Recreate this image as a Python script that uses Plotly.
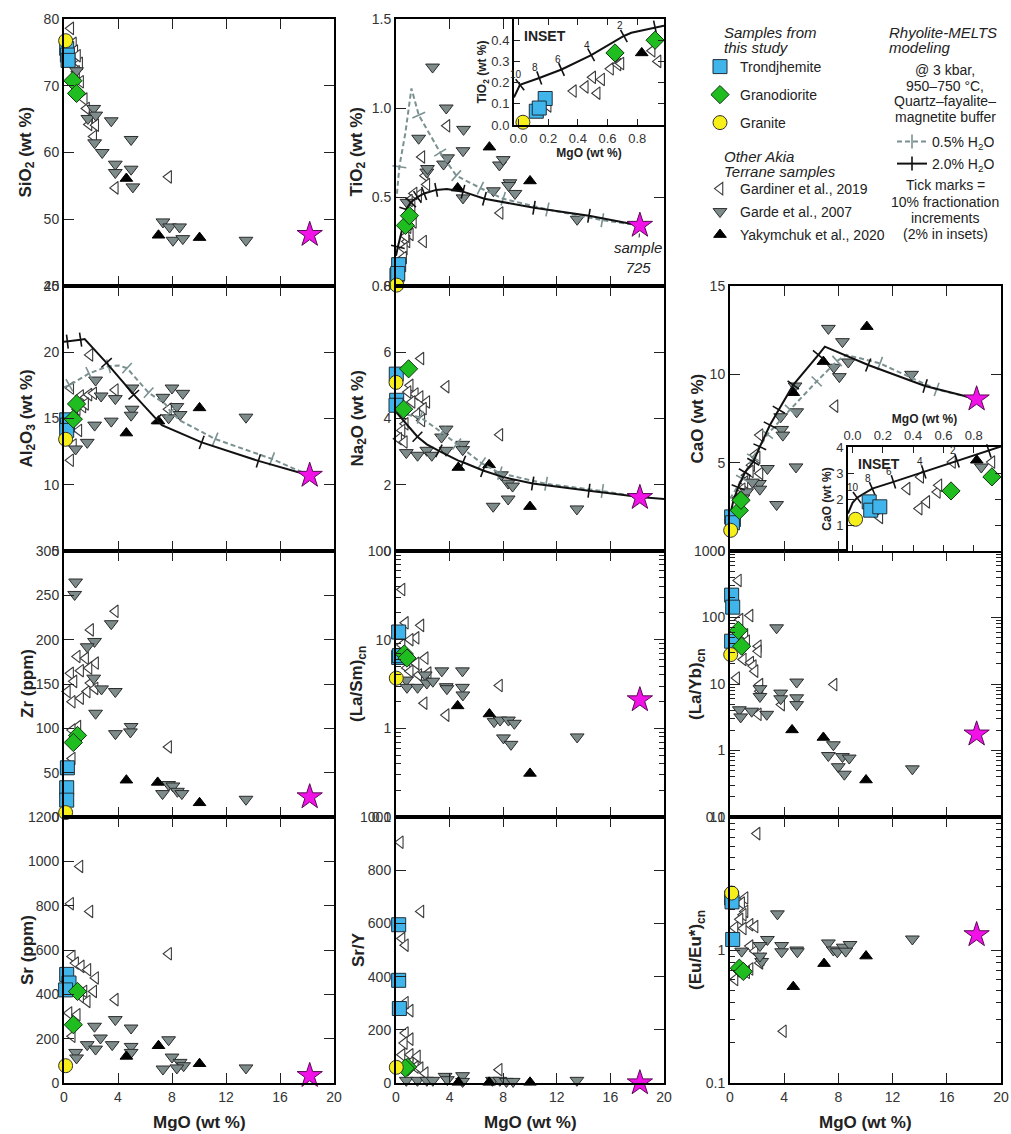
import math
import plotly.graph_objects as go

W, H = 1011, 1134
FONT = "Liberation Sans, Arial, Helvetica, sans-serif"

# ---------------- data: (MgO wt %, value) ----------------
SIO2_TRON = [(0.2, 75.6), (0.25, 74.6), (0.3, 73.8)]
SIO2_GRANO = [(0.66, 70.75), (0.93, 68.85)]
SIO2_GRANITE = [(0.12, 76.75)]
SIO2_GARDINER = [(0.5, 78.6), (0.7, 76.35), (0.8, 75.2), (1.16, 73.35), (0.93, 72.1), (1.23, 70.6), (1.5, 68.0),
                 (1.67, 66.6), (1.9, 65.1), (1.85, 64.2), (2.35, 64.1), (2.2, 62.4), (3.8, 54.7), (7.75, 56.35),
                 (1.0, 74.5), (0.6, 73.8)]
SIO2_GARDE = [(0.93, 72.25), (2.2, 66.6), (1.77, 65.1), (2.35, 65.6), (2.27, 61.45), (2.83, 60.0), (3.5, 64.75),
              (3.8, 58.25), (3.8, 57.0), (4.97, 61.95), (4.97, 57.5), (5.1, 54.85), (7.33, 49.6), (7.82, 48.85),
              (8.56, 48.85), (8.07, 46.85), (8.8, 47.1), (13.48, 46.85)]
SIO2_YAKY = [(4.62, 56.1), (7.0, 47.6), (10.04, 47.25)]
SIO2_STAR = [(18.2, 47.7)]

TIO2_TRON = [(0.07, 0.06), (0.2, 0.12), (0.13, 0.07)]
TIO2_GRANO = [(0.7, 0.34), (1.0, 0.395)]
TIO2_GRANITE = [(0.05, 0.005)]
TIO2_GARDINER = [(1.93, 0.725), (3.8, 0.9), (2.18, 0.62), (2.3, 0.57), (1.69, 0.51), (1.35, 0.52), (2.06, 0.25),
                 (1.07, 0.29), (0.82, 0.25), (0.62, 0.21), (0.57, 0.16), (0.9, 0.33), (1.2, 0.45), (1.3, 0.36),
                 (7.77, 0.41), (1.0, 0.48), (0.75, 0.28)]
TIO2_GARDE = [(0.82, 0.47), (2.73, 1.23), (3.75, 1.0), (5.04, 0.88), (1.69, 0.83), (2.3, 0.64), (2.35, 0.66),
              (3.55, 0.685), (3.85, 0.72), (5.0, 0.76), (5.0, 0.495), (7.72, 0.68), (8.0, 0.71), (8.5, 0.58),
              (8.88, 0.52), (8.4, 0.565), (7.27, 0.535), (13.52, 0.375)]
TIO2_YAKY = [(4.6, 0.55), (6.97, 0.78), (10.0, 0.59)]
TIO2_STAR = [(18.2, 0.34)]

AL_TRON = [(0.2, 14.9), (0.25, 14.5), (0.2, 14.1)]
AL_GRANO = [(0.93, 16.1), (0.69, 14.95)]
AL_GRANITE = [(0.12, 13.43)]
AL_GARDINER = [(1.92, 19.8), (0.5, 17.3), (1.23, 16.7), (1.6, 16.6), (1.85, 16.8), (2.2, 16.9), (3.8, 17.15),
               (0.98, 15.7), (1.4, 15.9), (0.8, 15.2), (0.49, 11.85), (1.1, 14.1), (0.7, 13.0), (1.6, 16.1),
               (7.75, 15.7)]
AL_GARDE = [(2.34, 17.9), (2.75, 16.7), (3.8, 16.5), (3.5, 14.8), (2.27, 14.5), (1.72, 13.2), (0.86, 12.7),
            (5.04, 17.3), (5.04, 15.7), (4.97, 15.25), (7.33, 16.6), (8.0, 17.3), (8.8, 16.9), (8.36, 15.9),
            (8.6, 15.3), (7.75, 15.05), (13.48, 15.1)]
AL_YAKY = [(4.62, 13.9), (7.0, 14.8), (10.04, 15.8)]
AL_STAR = [(18.2, 10.7)]

NA_TRON = [(0.02, 5.34), (0.05, 4.55), (0.0, 4.4)]
NA_GRANO = [(0.94, 5.5), (0.57, 4.28)]
NA_GRANITE = [(0.0, 5.09)]
NA_GARDINER = [(1.86, 5.81), (3.74, 4.96), (7.75, 3.51), (1.06, 5.0), (1.44, 4.74), (1.8, 4.65), (2.3, 4.5),
               (2.05, 4.3), (1.56, 4.13), (1.93, 3.94), (0.69, 3.84), (0.45, 3.64), (0.2, 3.39), (0.62, 3.29),
               (1.2, 4.5), (0.9, 4.8)]
NA_GARDE = [(0.77, 2.97), (1.61, 2.89), (2.3, 3.04), (2.67, 2.89), (3.74, 3.68), (3.4, 3.44), (3.74, 3.04),
            (4.98, 3.22), (4.98, 3.06), (7.25, 1.35), (7.87, 2.3), (8.37, 2.05), (8.7, 1.96), (8.37, 1.57),
            (13.5, 1.27)]
NA_YAKY = [(4.65, 2.52), (6.95, 2.6), (10.0, 1.34)]
NA_STAR = [(18.2, 1.61)]

CA_TRON = [(0.25, 1.78), (0.12, 1.93), (0.18, 1.6)]
CA_GRANO = [(0.69, 2.3), (0.81, 2.87)]
CA_GRANITE = [(0.05, 1.17)]
CA_GARDINER = [(7.75, 8.2), (2.21, 6.56), (1.85, 5.43), (1.6, 4.86), (2.21, 4.39), (1.23, 4.29), (1.1, 3.9),
               (0.9, 3.5), (0.55, 3.0), (2.0, 5.3), (1.5, 4.5)]
CA_GARDE = [(7.26, 12.6), (8.3, 11.85), (8.73, 10.7), (7.67, 10.4), (8.07, 9.87), (13.4, 10.0), (4.92, 7.88),
            (3.74, 7.6), (3.81, 6.88), (3.9, 6.56), (2.76, 4.67), (2.17, 3.82), (2.2, 3.5), (1.65, 3.9),
            (4.87, 4.76), (3.44, 2.63), (1.23, 3.35), (0.95, 3.0), (4.8, 9.34)]
CA_YAKY = [(10.1, 12.7), (6.89, 10.72), (4.67, 8.96)]
CA_STAR = [(18.2, 8.6)]

ZR_TRON = [(0.25, 55.5), (0.2, 33.0), (0.2, 19.0)]
ZR_GRANO = [(1.0, 92), (0.69, 84)]
ZR_GRANITE = [(0.12, 5)]
ZR_GARDINER = [(3.8, 232), (1.97, 211), (0.98, 181), (1.6, 179), (2.34, 173.6), (1.85, 168), (1.23, 165),
               (0.49, 162), (0.74, 153), (0.25, 141.5), (1.72, 141.5), (1.23, 134), (0.61, 130), (1.03, 102),
               (0.61, 98), (0.61, 66), (7.75, 79), (1.97, 151), (2.3, 145)]
ZR_GARDE = [(0.86, 265), (0.79, 251), (2.26, 198), (1.72, 192), (3.5, 218), (3.8, 141.5), (2.78, 144.5),
            (2.34, 117), (3.81, 94), (4.97, 102), (4.92, 96), (7.3, 26.4), (7.75, 36.6), (8.07, 35), (8.4, 29),
            (8.73, 26.4), (13.48, 20), (2.2, 156.6)]
ZR_YAKY = [(4.62, 41.5), (6.94, 39), (10.04, 16)]
ZR_STAR = [(18.2, 22.6)]

LASM_TRON = [(0.2, 12.2), (0.2, 6.3), (0.25, 6.6)]
LASM_GRANO = [(0.62, 6.9), (0.82, 6.2)]
LASM_GRANITE = [(0.02, 3.68)]
LASM_GARDINER = [(0.45, 36.8), (0.7, 15.5), (1.86, 14.5), (1.5, 10.5), (1.06, 10), (0.45, 8.7), (2.18, 6.2),
                 (1.5, 5.4), (0.82, 4.8), (1.06, 4.4), (2.1, 1.92), (3.74, 1.41), (7.72, 3.04), (1.7, 4.0),
                 (2.4, 4.2)]
LASM_GARDE = [(0.77, 3.5), (0.82, 2.9), (1.61, 2.9), (2.18, 4.0), (2.3, 3.24), (2.75, 3.4), (3.42, 4.45),
              (3.75, 2.95), (3.8, 2.8), (4.96, 4.45), (4.96, 2.9), (4.99, 2.38), (7.32, 1.19), (7.77, 1.24),
              (8.39, 1.24), (8.83, 1.14), (8.02, 0.78), (8.58, 0.66), (13.52, 0.8)]
LASM_YAKY = [(4.6, 1.79), (6.97, 1.45), (10.0, 0.31)]
LASM_STAR = [(18.2, 2.09)]

LAYB_TRON = [(0.12, 217), (0.2, 143), (0.12, 44)]
LAYB_GRANO = [(0.62, 64), (0.86, 37)]
LAYB_GRANITE = [(0.05, 27.7)]
LAYB_GARDINER = [(0.62, 361), (1.48, 107), (0.74, 93), (1.1, 55), (1.23, 44), (2.09, 37), (2.09, 31),
                 (0.98, 23.4), (1.53, 21), (1.72, 18.6), (1.85, 15.6), (0.49, 12.3), (2.21, 9.8), (2.21, 7.8),
                 (3.81, 4.9), (2.09, 3.5), (7.68, 9.8)]
LAYB_GARDE = [(3.44, 70), (2.21, 8.5), (2.21, 6.5), (0.69, 4.1), (0.79, 3.2), (1.6, 3.9), (2.71, 3.5),
              (3.74, 7.3), (3.74, 6.0), (4.92, 10.7), (4.92, 6.2), (4.92, 4.9), (7.63, 1.22), (7.26, 0.84),
              (8.3, 0.81), (8.8, 0.77), (7.99, 0.57), (8.44, 0.44), (13.46, 0.53)]
LAYB_YAKY = [(4.58, 2.04), (6.89, 1.57), (10.04, 0.36)]
LAYB_STAR = [(18.2, 1.76)]

SR_TRON = [(0.2, 490), (0.37, 451), (0.12, 420)]
SR_GRANO = [(1.0, 413), (0.69, 263)]
SR_GRANITE = [(0.12, 78)]
SR_GARDINER = [(1.18, 977), (0.49, 809), (1.92, 774), (7.75, 583), (0.61, 571), (0.86, 541), (1.28, 526),
               (1.77, 511), (2.34, 474), (3.8, 376), (1.48, 413), (2.2, 413), (1.72, 368), (1.23, 390),
               (0.37, 316), (0.98, 308), (0.61, 211)]
SR_GARDE = [(2.26, 256), (3.8, 286), (4.97, 248), (2.7, 203), (3.57, 173), (1.72, 173), (2.34, 153), (0.86, 138),
            (0.93, 113), (4.97, 165), (4.97, 138), (7.75, 195), (8.0, 117), (8.6, 93), (8.86, 78), (8.36, 68),
            (7.33, 63), (13.48, 68)]
SR_YAKY = [(4.62, 120), (7.0, 168), (10.04, 87)]
SR_STAR = [(18.2, 33)]

SRY_TRON = [(0.2, 595), (0.2, 386), (0.25, 280)]
SRY_GRANO = [(0.87, 60), (0.7, 56)]
SRY_GRANITE = [(0.02, 59)]
SRY_GARDINER = [(0.32, 905), (1.86, 645), (0.45, 543), (0.7, 518), (1.06, 272), (0.7, 302), (0.7, 188),
                (1.06, 165), (0.62, 150), (0.45, 106), (1.06, 106), (1.6, 100), (1.06, 75), (1.45, 60), (1.8, 56),
                (2.18, 37), (7.7, 50)]
SRY_GARDE = [(0.77, 10), (1.6, 10), (2.3, 10), (2.75, 10), (3.66, 25), (3.83, 12.5), (4.97, 27.5), (4.97, 6),
             (7.2, 10), (7.75, 10), (8.24, 6), (8.74, 6), (13.5, 10)]
SRY_YAKY = [(4.65, 2.5), (6.95, 2.5), (10.0, 2.5)]
SRY_STAR = [(18.2, 0)]

EU_TRON = [(0.12, 2.46), (0.2, 1.2), (0.15, 2.3)]
EU_GRANO = [(0.69, 0.73), (0.98, 0.69)]
EU_GRANITE = [(0.12, 2.68)]
EU_GARDINER = [(2.0, 7.5), (1.11, 2.46), (0.86, 2.25), (1.11, 1.95), (0.98, 1.84), (0.74, 1.7), (1.48, 1.55),
               (1.85, 1.5), (0.98, 1.45), (0.37, 1.47), (1.48, 1.07), (1.85, 0.98), (2.21, 0.8), (1.48, 0.72),
               (1.23, 0.68), (0.37, 0.6), (3.94, 0.245), (2.3, 0.85)]
EU_GARDE = [(3.5, 1.87), (2.76, 1.2), (2.21, 1.08), (0.86, 0.98), (3.81, 1.08), (3.81, 0.97), (4.92, 1.0),
            (4.97, 0.97), (7.26, 1.13), (7.63, 1.0), (7.92, 0.97), (8.36, 1.05), (8.86, 1.1), (8.54, 0.98),
            (13.46, 1.21), (2.34, 0.82), (2.21, 0.9)]
EU_YAKY = [(4.67, 0.53), (6.94, 0.79), (10.04, 0.9)]
EU_STAR = [(18.2, 1.3)]

# insets (MgO 0-1 wt %)
TIO2I_TRON = [(0.12, 0.065), (0.18, 0.125), (0.14, 0.08)]
TIO2I_GRANO = [(0.65, 0.34), (0.92, 0.40)]
TIO2I_GRANITE = [(0.03, 0.013)]
TIO2I_GARDINER = [(0.2, 0.09), (0.37, 0.16), (0.45, 0.18), (0.53, 0.15), (0.5, 0.225), (0.56, 0.215),
                  (0.62, 0.265), (0.67, 0.285), (0.69, 0.29), (0.9, 0.35), (0.94, 0.30), (0.99, 0.28)]
TIO2I_YAKY = [(0.83, 0.34)]

CAI_TRON = [(0.11, 1.89), (0.12, 1.57), (0.18, 1.70)]
CAI_GRANO = [(0.65, 2.31), (0.92, 2.85)]
CAI_GRANITE = [(0.02, 1.22)]
CAI_GARDINER = [(0.18, 1.29), (0.44, 1.63), (0.49, 1.89), (0.56, 2.27), (0.57, 2.53), (0.36, 2.4), (0.45, 2.85),
                (0.66, 3.42), (0.92, 3.42), (0.99, 3.17)]
CAI_GARDE = [(0.85, 3.23)]
CAI_YAKY = [(0.82, 3.49)]

# Rhyolite-MELTS models: (MgO, value, is fractionation increment)
TIO2_M05 = [(18.2, 0.34, 0), (15.4, 0.37, 1), (11.3, 0.43, 1), (8.0, 0.49, 1), (6.3, 0.55, 1), (4.5, 0.62, 1),
            (3.3, 0.75, 1), (1.7, 0.96, 1), (1.15, 1.11, 0), (0.7, 0.86, 0), (0.25, 0.67, 1), (0.05, 0.5, 0)]
TIO2_M2 = [(18.2, 0.34, 0), (14.4, 0.395, 1), (10.3, 0.44, 1), (8.0, 0.47, 0), (6.6, 0.49, 1), (5.0, 0.53, 1),
           (3.8, 0.545, 0), (3.0, 0.54, 1), (2.1, 0.52, 1), (1.6, 0.50, 1), (1.1, 0.47, 1), (0.75, 0.43, 1),
           (0.5, 0.33, 0), (0.14, 0.22, 1), (0.0, 0.17, 0)]
AL_M05 = [(18.2, 10.7, 0), (15.4, 11.95, 1), (11.2, 13.45, 1), (8.6, 14.85, 0), (7.9, 15.5, 1), (7.5, 16.1, 0),
          (6.27, 16.95, 1), (4.67, 18.8, 1), (4.06, 19.0, 0), (3.3, 18.95, 1), (1.85, 18.4, 1), (0.4, 17.5, 1),
          (0.0, 17.35, 0)]
AL_M2 = [(18.2, 10.7, 0), (14.4, 11.8, 1), (10.2, 13.2, 1), (7.25, 14.5, 0), (6.84, 14.95, 1), (5.17, 16.8, 1),
         (3.15, 19.2, 1), (1.53, 21.0, 0), (1.23, 20.95, 1), (0.25, 20.8, 1), (0.0, 20.8, 0)]
NA_M05 = [(18.2, 1.63, 0), (15.4, 1.81, 1), (11.2, 2.03, 1), (7.75, 2.35, 1), (6.39, 2.65, 1), (4.53, 3.23, 1),
          (3.42, 3.58, 1), (1.8, 4.04, 1), (0.3, 4.15, 0)]
NA_M2 = [(20.0, 1.57, 0), (18.2, 1.63, 0), (14.4, 1.82, 1), (10.2, 2.04, 1), (8.0, 2.23, 0), (6.5, 2.43, 1),
         (5.0, 2.68, 1), (4.65, 2.73, 0), (3.2, 3.02, 1), (2.3, 3.22, 0), (1.6, 3.45, 1), (0.82, 3.8, 0),
         (0.0, 4.2, 0)]
CA_M05 = [(18.2, 8.6, 0), (15.25, 9.15, 1), (11.07, 10.62, 1), (8.6, 11.1, 0), (7.9, 10.75, 1), (6.4, 9.6, 1),
          (4.43, 8.0, 1), (2.76, 6.6, 1), (1.7, 5.3, 1), (0.9, 4.1, 1), (0.25, 3.25, 0), (0.0, 2.97, 0)]
CA_M2 = [(18.2, 8.6, 0), (14.4, 9.34, 1), (10.2, 10.53, 1), (7.0, 11.57, 0), (6.52, 11.1, 1), (4.67, 9.4, 1),
         (3.6, 8.0, 1), (2.95, 7.13, 1), (2.2, 5.9, 1), (1.72, 5.05, 1), (1.1, 4.45, 1), (0.6, 3.6, 1),
         (0.25, 2.85, 0), (0.0, 2.0, 0)]
TIO2I_M2 = [(-0.03, 0.13, 0), (0.01, 0.19, 1), (0.14, 0.222, 1), (0.29, 0.262, 1), (0.49, 0.33, 1),
            (0.71, 0.42, 1), (0.76, 0.435, 0), (0.92, 0.46, 1), (0.98, 0.468, 0)]
CAI_M2 = [(-0.03, 1.44, 0), (0.0, 1.85, 0), (0.03, 2.05, 1), (0.13, 2.4, 1), (0.27, 2.66, 1), (0.47, 3.04, 1),
          (0.69, 3.47, 1), (0.9, 3.85, 1), (0.98, 4.02, 0)]
INSET_FRACTION_LABELS = ["10", "8", "6", "4", "2"]

X_TICKS = [0, 4, 8, 12, 16, 20]
INSET_X_TICKS = [0.0, 0.2, 0.4, 0.6, 0.8]
LOG_MINOR_DIGITS = [2, 3, 4, 5, 6, 7, 8, 9]

GROUP_NAMES = {"tron": "Trondjhemite", "grano": "Granodiorite", "granite": "Granite",
               "gardiner": "Gardiner et al., 2019", "garde": "Garde et al., 2007",
               "yaky": "Yakymchuk et al., 2020"}

# ---------------- layout geometry (pixels) ----------------
COLS = [(64, 334), (396, 664), (730, 1001)]
ROWS = [(19, 286), (286, 551), (551, 817), (817, 1083)]
TIO2_INSET_BOX = (514, 664, 19, 125)
CAO_INSET_BOX = (848, 1001, 447, 551)


def px(x):
    return x / W


def py(y):
    return 1 - y / H


STYLE = {
    "gardiner": dict(symbol="triangle-left", size=11, color="white", line=dict(color="#3a3a3a", width=1.1)),
    "garde": dict(symbol="triangle-down", size=12, color="#7e8b8b", line=dict(color="#2b2b2b", width=1)),
    "yaky": dict(symbol="triangle-up", size=11, color="black", line=dict(color="black", width=1)),
    "star": dict(symbol="star", size=19, color="#f012e6", line=dict(color="#5a0a55", width=1)),
    "tron": dict(symbol="square", size=14, color="#40b5ec", line=dict(color="#1f2f38", width=1)),
    "grano": dict(symbol="diamond", size=14, color="#1fbd1f", line=dict(color="#123312", width=1)),
    "granite": dict(symbol="circle", size=14, color="#f6ef1a", line=dict(color="#333333", width=1)),
}
LEGEND_OF = {"tron": "legend", "grano": "legend2", "granite": "legend3",
             "gardiner": "legend4", "garde": "legend5", "yaky": "legend6"}
C05 = "#7b9191"
C2 = "#111111"
DASH = "5px,3px"

PANELS = [
    ("sio2", 0, 0, "SiO<sub>2</sub> (wt %)", "lin", [40, 80], 10, None,
     dict(tron=SIO2_TRON, grano=SIO2_GRANO, granite=SIO2_GRANITE, gardiner=SIO2_GARDINER, garde=SIO2_GARDE,
          yaky=SIO2_YAKY, star=SIO2_STAR), None),
    ("tio2", 0, 1, "TiO<sub>2</sub> (wt %)", "lin", [0, 1.5], 0.5, ".1f",
     dict(tron=TIO2_TRON, grano=TIO2_GRANO, granite=TIO2_GRANITE, gardiner=TIO2_GARDINER, garde=TIO2_GARDE,
          yaky=TIO2_YAKY, star=TIO2_STAR), (TIO2_M05, TIO2_M2)),
    ("al2o3", 1, 0, "Al<sub>2</sub>O<sub>3</sub> (wt %)", "lin", [5, 25], 5, None,
     dict(tron=AL_TRON, grano=AL_GRANO, granite=AL_GRANITE, gardiner=AL_GARDINER, garde=AL_GARDE,
          yaky=AL_YAKY, star=AL_STAR), (AL_M05, AL_M2)),
    ("na2o", 1, 1, "Na<sub>2</sub>O (wt %)", "lin", [0, 8], 2, None,
     dict(tron=NA_TRON, grano=NA_GRANO, granite=NA_GRANITE, gardiner=NA_GARDINER, garde=NA_GARDE,
          yaky=NA_YAKY, star=NA_STAR), (NA_M05, NA_M2)),
    ("cao", 1, 2, "CaO (wt %)", "lin", [0, 15], 5, None,
     dict(tron=CA_TRON, grano=CA_GRANO, granite=CA_GRANITE, gardiner=CA_GARDINER, garde=CA_GARDE,
          yaky=CA_YAKY, star=CA_STAR), (CA_M05, CA_M2)),
    ("zr", 2, 0, "Zr (ppm)", "lin", [0, 300], 50, None,
     dict(tron=ZR_TRON, grano=ZR_GRANO, granite=ZR_GRANITE, gardiner=ZR_GARDINER, garde=ZR_GARDE,
          yaky=ZR_YAKY, star=ZR_STAR), None),
    ("lasm", 2, 1, "(La/Sm)<sub>cn</sub>", "log", [-1, 2], 1, None,
     dict(tron=LASM_TRON, grano=LASM_GRANO, granite=LASM_GRANITE, gardiner=LASM_GARDINER, garde=LASM_GARDE,
          yaky=LASM_YAKY, star=LASM_STAR), None),
    ("layb", 2, 2, "(La/Yb)<sub>cn</sub>", "log", [-1, 3], 1, None,
     dict(tron=LAYB_TRON, grano=LAYB_GRANO, granite=LAYB_GRANITE, gardiner=LAYB_GARDINER, garde=LAYB_GARDE,
          yaky=LAYB_YAKY, star=LAYB_STAR), None),
    ("sr", 3, 0, "Sr (ppm)", "lin", [0, 1200], 200, None,
     dict(tron=SR_TRON, grano=SR_GRANO, granite=SR_GRANITE, gardiner=SR_GARDINER, garde=SR_GARDE,
          yaky=SR_YAKY, star=SR_STAR), None),
    ("sry", 3, 1, "Sr/Y", "lin", [0, 1000], 200, None,
     dict(tron=SRY_TRON, grano=SRY_GRANO, granite=SRY_GRANITE, gardiner=SRY_GARDINER, garde=SRY_GARDE,
          yaky=SRY_YAKY, star=SRY_STAR), None),
    ("eu", 3, 2, "(Eu/Eu*)<sub>cn</sub>", "log", [-1, 1], 1, None,
     dict(tron=EU_TRON, grano=EU_GRANO, granite=EU_GRANITE, gardiner=EU_GARDINER, garde=EU_GARDE,
          yaky=EU_YAKY, star=EU_STAR), None),
]

fig = go.Figure()
layout = dict(template="none", width=W, height=H, margin=dict(l=0, r=0, t=0, b=0, autoexpand=False),
              paper_bgcolor="white", plot_bgcolor="white", font=dict(family=FONT, size=14, color="#333"),
              showlegend=True)
annotations = []


def axis_base(fontsize=14, ticklen=10):
    return dict(showline=True, linewidth=2, linecolor="black", mirror="allticks", ticks="inside",
                ticklen=ticklen, tickwidth=1.3, tickcolor="#222", showgrid=False, zeroline=False,
                automargin=False, tickfont=dict(family=FONT, size=fontsize, color="#333"))


def add_points(pts, xa, ya, group, legend_on):
    st = STYLE[group]
    if legend_on and group in LEGEND_OF:
        kw = dict(showlegend=True, legend=LEGEND_OF[group])
    else:
        kw = dict(showlegend=False)
    fig.add_trace(go.Scatter(x=[p[0] for p in pts], y=[p[1] for p in pts], mode="markers", xaxis=xa, yaxis=ya,
                             name=GROUP_NAMES.get(group, "sample 725"), cliponaxis=False,
                             marker=dict(symbol=st["symbol"], size=st["size"], color=st["color"],
                                         line=st["line"]), **kw))


def add_curve(pts, xa, ya, sx, sy, color, dash):
    xs = [p[0] for p in pts]
    ys = [p[1] for p in pts]
    fig.add_trace(go.Scatter(x=xs, y=ys, mode="lines", xaxis=xa, yaxis=ya, showlegend=False,
                             cliponaxis=False, line=dict(color=color, width=2, dash=dash)))
    tx, ty, ang = [], [], []
    n = len(pts)
    for i, p in enumerate(pts):
        if not p[2]:
            continue
        j0, j1 = max(i - 1, 0), min(i + 1, n - 1)
        dx = (xs[j1] - xs[j0]) * sx
        dy = -(ys[j1] - ys[j0]) * sy
        tx.append(xs[i])
        ty.append(ys[i])
        ang.append(math.degrees(math.atan2(dy, dx)))
    fig.add_trace(go.Scatter(x=tx, y=ty, mode="markers", xaxis=xa, yaxis=ya, showlegend=False, cliponaxis=False,
                             marker=dict(symbol="line-ns", size=10, angle=ang, color=color,
                                         line=dict(color=color, width=1.6))))
    return tx, ty


for idx, (key, r, c, ytitle, scale, yr, dt, tfmt, data, curves) in enumerate(PANELS, start=1):
    xa = "x" if idx == 1 else f"x{idx}"
    ya = "y" if idx == 1 else f"y{idx}"
    xl, xr = COLS[c]
    yt, yb = ROWS[r]
    xax = axis_base()
    xax.update(domain=[px(xl), px(xr)], range=[0, 20], tickmode="array", tickvals=X_TICKS, anchor=ya,
               showticklabels=(r == 3))
    yax = axis_base()
    yax.update(domain=[py(yb), py(yt)], anchor=xa)
    if scale == "log":
        majors = [10 ** k for k in range(yr[0], yr[1] + 1)]
        minors = [d * 10 ** k for k in range(yr[0], yr[1]) for d in LOG_MINOR_DIGITS]
        yax.update(type="log", range=yr, tickmode="array", tickvals=majors,
                   ticktext=[("%g" % v) for v in majors],
                   minor=dict(ticks="inside", ticklen=5, tickwidth=1, tickcolor="#222", tickmode="array",
                              tickvals=minors, showgrid=False))
    else:
        yax.update(range=yr, tick0=yr[0], dtick=dt)
        if tfmt:
            yax.update(tickformat=tfmt)
    layout["xaxis" if idx == 1 else f"xaxis{idx}"] = xax
    layout["yaxis" if idx == 1 else f"yaxis{idx}"] = yax

    legend_on = (idx == 1)
    for g in ["gardiner", "garde", "yaky"]:
        add_points(data[g], xa, ya, g, legend_on)
    if curves:
        sx = (xr - xl) / 20.0
        sy = (yb - yt) / (yr[1] - yr[0])
        add_curve(curves[0], xa, ya, sx, sy, C05, DASH)
        add_curve(curves[1], xa, ya, sx, sy, C2, "solid")
    for g in ["star", "tron", "grano", "granite"]:
        add_points(data[g], xa, ya, g, legend_on)

    annotations.append(dict(text=f"<b>{ytitle}</b>", xref="paper", yref="paper",
                            x=px([27, 358, 697][c]), y=py((yt + yb) / 2), textangle=-90, showarrow=False,
                            xanchor="center", yanchor="middle", font=dict(family=FONT, size=17, color="#222")))
    if r == 3:
        annotations.append(dict(text="<b>MgO (wt %)</b>", xref="paper", yref="paper", x=px((xl + xr) / 2),
                                y=py(1122), showarrow=False, xanchor="center", yanchor="middle",
                                font=dict(family=FONT, size=17, color="#222")))

# legend-only entries for the model curves
fig.add_trace(go.Scatter(x=[None], y=[None], xaxis="x2", yaxis="y2", mode="lines+markers",
                         name="0.5% H<sub>2</sub>O", legend="legend7",
                         line=dict(color=C05, width=2, dash=DASH),
                         marker=dict(symbol="line-ns", size=10, color=C05, line=dict(color=C05, width=1.6))))
fig.add_trace(go.Scatter(x=[None], y=[None], xaxis="x2", yaxis="y2", mode="lines+markers",
                         name="2.0% H<sub>2</sub>O", legend="legend8",
                         line=dict(color=C2, width=2),
                         marker=dict(symbol="line-ns", size=10, color=C2, line=dict(color=C2, width=1.6))))

# sample 725 label
annotations.append(dict(text="<i>sample<br>725</i>", xref="x2", yref="y2", x=TIO2_STAR[0][0], y=TIO2_STAR[0][1],
                        ax=-2, ay=32, showarrow=True, arrowhead=0, arrowwidth=1, arrowcolor="#222", standoff=8,
                        font=dict(family=FONT, size=15, color="#222")))

# ---------------- insets ----------------
INSETS = [
    (12, TIO2_INSET_BOX, [0, 0.5], [0.0, 0.1, 0.2, 0.3, 0.4], ["0.0", "0.1", "0.2", "0.3", "0.4"],
     "TiO<sub>2</sub> (wt %)", "bottom",
     dict(tron=TIO2I_TRON, grano=TIO2I_GRANO, granite=TIO2I_GRANITE, gardiner=TIO2I_GARDINER, yaky=TIO2I_YAKY),
     TIO2I_M2),
    (13, CAO_INSET_BOX, [0, 4], [1, 2, 3, 4], ["1", "2", "3", "4"], "CaO (wt %)", "top",
     dict(tron=CAI_TRON, grano=CAI_GRANO, granite=CAI_GRANITE, gardiner=CAI_GARDINER, garde=CAI_GARDE,
          yaky=CAI_YAKY),
     CAI_M2),
]
INSET_XRANGE = [-0.03, 0.98]
for idx, box, yr, ytv, ytt, ytitle, side, data, curve in INSETS:
    xa, ya = f"x{idx}", f"y{idx}"
    xl, xr, yt, yb = box
    xax = axis_base(13, 6)
    xax.update(domain=[px(xl), px(xr)], range=INSET_XRANGE, tickmode="array", tickvals=INSET_X_TICKS,
               ticktext=["0.0", "0.2", "0.4", "0.6", "0.8"], anchor=ya, side=side,
               title=dict(text="<b>MgO (wt %)</b>", font=dict(family=FONT, size=12, color="#222"), standoff=2))
    yax = axis_base(13, 6)
    yax.update(domain=[py(yb), py(yt)], range=yr, tickmode="array", tickvals=ytv, ticktext=ytt, anchor=xa,
               title=dict(text=f"<b>{ytitle}</b>", font=dict(family=FONT, size=12, color="#222"), standoff=2))
    layout[f"xaxis{idx}"] = xax
    layout[f"yaxis{idx}"] = yax
    for g in ["gardiner", "garde", "yaky"]:
        if g in data:
            add_points(data[g], xa, ya, g, False)
    sx = (xr - xl) / (INSET_XRANGE[1] - INSET_XRANGE[0])
    sy = (yb - yt) / (yr[1] - yr[0])
    tx, ty = add_curve(curve, xa, ya, sx, sy, C2, "solid")
    for lab, x0, y0 in zip(INSET_FRACTION_LABELS, tx, ty):
        annotations.append(dict(text=lab, xref=xa, yref=ya, x=x0, y=y0, xshift=-4, yshift=10, showarrow=False,
                                font=dict(family=FONT, size=10, color="#222")))
    for g in ["tron", "grano", "granite"]:
        add_points(data[g], xa, ya, g, False)
    annotations.append(dict(text="<b>INSET</b>", xref="paper", yref="paper", x=px(xl + 8), y=py(yt + 17),
                            xanchor="left", yanchor="middle", showarrow=False,
                            font=dict(family=FONT, size=14, color="#222")))

# ---------------- legend block ----------------
LEG_FONT = dict(family=FONT, size=14, color="#222")
legend_pos = {"legend": (700, 67), "legend2": (700, 95), "legend3": (700, 123),
              "legend4": (700, 189), "legend5": (700, 212), "legend6": (700, 235),
              "legend7": (892, 142), "legend8": (892, 164)}
for name, (lx, ly) in legend_pos.items():
    layout[name] = dict(x=px(lx), y=py(ly), xanchor="left", yanchor="middle", bgcolor="rgba(0,0,0,0)",
                        font=LEG_FONT, itemsizing="trace", borderwidth=0)

HEAD_FONT = dict(family=FONT, size=15, color="#222")
for txt, x, y in [("Samples from", 722, 32), ("this study", 722, 47), ("Other Akia", 722, 156),
                  ("Terrane samples", 722, 171), ("Rhyolite-MELTS", 887, 32), ("modeling", 887, 47)]:
    annotations.append(dict(text=f"<i>{txt}</i>", xref="paper", yref="paper", x=px(x), y=py(y), xanchor="left",
                            yanchor="middle", showarrow=False, font=HEAD_FONT))
for txt, y in [("@ 3 kbar,", 70), ("950–750 °C,", 86), ("Quartz–fayalite–", 101), ("magnetite buffer", 117),
               ("Tick marks =", 185), ("10% fractionation", 202), ("increments", 218), ("(2% in insets)", 234)]:
    annotations.append(dict(text=txt, xref="paper", yref="paper", x=px(945), y=py(y), xanchor="center",
                            yanchor="middle", showarrow=False, font=LEG_FONT))

layout["annotations"] = annotations
fig.update_layout(**layout)
fig.write_html("out.html", config={"displayModeBar": False},
               post_script="document.body.style.margin='0';document.body.style.padding='0';"
                           "document.documentElement.style.overflow='hidden';")
